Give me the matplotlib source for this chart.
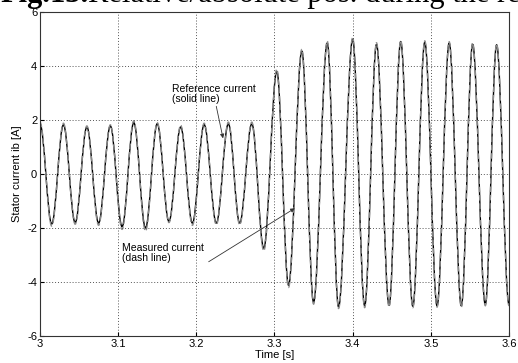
import matplotlib
matplotlib.use("Agg")
import matplotlib.pyplot as plt
from matplotlib.path import Path
from matplotlib.patches import PathPatch

# extrema of the stator current (time [s], current [A])
t_ext = [3.000, 3.015, 3.030, 3.045, 3.060, 3.075, 3.090, 3.105, 3.120, 3.135,
         3.150, 3.165, 3.180, 3.195, 3.210, 3.2256, 3.241, 3.2555, 3.271, 3.2863,
         3.303, 3.318, 3.335, 3.350, 3.3675, 3.382, 3.400, 3.4154, 3.4305, 3.4466,
         3.4615, 3.477, 3.4923, 3.508, 3.5235, 3.539, 3.5535, 3.5697, 3.5842, 3.600]

i_ref = [1.85, -1.85, 1.82, -1.80, 1.74, -1.82, 1.78, -1.95, 1.90, -2.00,
         1.86, -1.76, 1.74, -1.82, 1.83, -1.82, 1.86, -1.82, 1.86, -2.75,
         3.80, -4.12, 4.55, -4.75, 4.85, -4.92, 4.98, -4.88, 4.80, -4.86,
         4.90, -4.90, 4.88, -4.88, 4.85, -4.88, 4.80, -4.83, 4.78, -4.82]

i_meas = [1.92, -1.93, 1.88, -1.86, 1.78, -1.90, 1.82, -2.05, 1.97, -2.12,
          1.90, -1.80, 1.80, -1.90, 1.88, -1.88, 1.92, -1.88, 1.92, -2.85,
          3.88, -4.20, 4.62, -4.82, 4.92, -4.98, 5.05, -4.95, 4.86, -4.92,
          4.95, -4.95, 4.93, -4.93, 4.90, -4.93, 4.85, -4.88, 4.82, -4.88]

x_ticks = [3, 3.1, 3.2, 3.3, 3.4, 3.5, 3.6]
x_tick_labels = ["3", "3.1", "3.2", "3.3", "3.4", "3.5", "3.6"]
y_ticks = [-6, -4, -2, 0, 2, 4, 6]
y_tick_labels = ["-6", "-4", "-2", "0", "2", "4", "6"]


def wave_path(t, v):
    # smooth half-cycles between the read extrema (flat tangent at each peak)
    verts = [(t[0], v[0])]
    codes = [Path.MOVETO]
    for k in range(1, len(t)):
        h = t[k] - t[k - 1]
        verts += [(t[k - 1] + 0.36 * h, v[k - 1]), (t[k] - 0.36 * h, v[k]), (t[k], v[k])]
        codes += [Path.CURVE4] * 3
    return Path(verts, codes)


plt.rcParams['font.family'] = ['Liberation Sans', 'DejaVu Sans']

fig = plt.figure(figsize=(5.18, 3.63), dpi=100)
ax = fig.add_axes([0.0772, 0.0744, 0.9054, 0.8926])

ax.add_patch(PathPatch(wave_path(t_ext, i_ref), fill=False, edgecolor='black', lw=1.0))
ax.add_patch(PathPatch(wave_path(t_ext, i_meas), fill=False, edgecolor='#8a8a8a', lw=1.0,
                       linestyle=(0, (4, 2))))

ax.set_xlim(3, 3.6)
ax.set_ylim(-6, 6)
ax.set_xticks(x_ticks)
ax.set_xticklabels(x_tick_labels)
ax.set_yticks(y_ticks)
ax.set_yticklabels(y_tick_labels)
ax.tick_params(direction='in', length=3, labelsize=8, pad=2)
ax.grid(True, color='#555555', linestyle=(0, (1, 2)), linewidth=0.7)
for s in ax.spines.values():
    s.set_color('#333333')
    s.set_linewidth(0.8)

ax.set_xlabel("Time [s]", fontsize=8, labelpad=1)
ax.set_ylabel("Stator current ib [A]", fontsize=8, labelpad=4)

# annotations
ax.annotate("Reference current\n(solid line)", xy=(3.2342, 1.32), xytext=(3.1685, 3.35),
            fontsize=7.5, ha='left', va='top', linespacing=1.0,
            arrowprops=dict(arrowstyle='-|>', color='#333333', lw=0.6,
                            shrinkA=0, shrinkB=0, mutation_scale=6))
ax.annotate("", xy=(3.326, -1.27), xytext=(3.2158, -3.25),
            arrowprops=dict(arrowstyle='-|>', color='#333333', lw=0.6,
                            shrinkA=0, shrinkB=0, mutation_scale=6))
ax.text(3.1055, -2.55, "Measured current\n(dash line)", fontsize=7.5,
        ha='left', va='top', linespacing=1.0)

# figure caption, clipped at the top edge as in the scanned page
cap_y = 0.995
bold = fig.text(0.0, cap_y, "Fig.13.", fontsize=22, family='Liberation Serif',
                weight='bold', ha='left', va='baseline')
fig.canvas.draw()
bb = bold.get_window_extent().transformed(fig.transFigure.inverted())
fig.text(bb.x1, cap_y, "Relative/absolute pos. during the re", fontsize=22,
         family='Liberation Serif', ha='left', va='baseline')

fig.savefig("out.png", dpi=100)
